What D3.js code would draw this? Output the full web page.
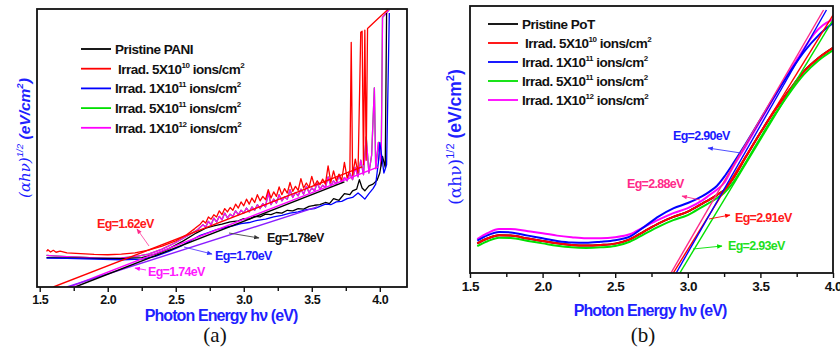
<!DOCTYPE html>
<html>
<head>
<meta charset="utf-8">
<script src="https://cdn.jsdelivr.net/npm/d3@7"></script>
<style>
body { margin: 0; background: #fff; }
</style>
</head>
<body>
<script>
// ---- panel (a): PANI, values in arbitrary units (0 = axis floor, 100 = frame top)
const majorTicks = [1.5, 2.0, 2.5, 3.0, 3.5, 4.0]
const minorTicksA = [1.75, 2.25, 2.75, 3.25, 3.75]
const minorTicksB = [1.75, 2.25, 2.75, 3.25, 3.75]

const legendA = ["Pristine PANI", " Irrad. 5X10|10", "Irrad. 1X10|11", "Irrad. 5X10|11", "Irrad. 1X10|12"]
const legendB = ["Pristine PoT", " Irrad. 5X10|10", "Irrad. 1X10|11", "Irrad. 5X10|11", "Irrad. 1X10|12"]

const blackA = [[1.55,10.6],[1.70,10.5],[1.90,10.3],[2.10,10.2],[2.25,10.6],[2.35,11.8],[2.45,13.8],[2.55,16.4],[2.65,19.4],[2.72,21.2],[2.78,22.0],[2.84,22.6],[2.90,23.4],[2.96,23.8],[3.00,24.6],[3.04,24.4],[3.08,25.4],[3.12,25.2],[3.16,26.2],[3.20,26.0],[3.24,26.8],[3.28,26.6],[3.32,27.6],[3.36,27.4],[3.40,28.2],[3.44,28.0],[3.48,29.0],[3.52,29.4],[3.56,29.6],[3.60,30.4],[3.63,30.0],[3.66,31.8],[3.70,31.2],[3.74,33.6],[3.78,33.2],[3.80,34.6],[3.83,35.2],[3.85,38.6],[3.87,35.6],[3.89,34.6],[3.92,36.4],[3.95,37.0],[3.98,38.4],[4.00,41.0],[4.02,47.0],[4.04,43.0],[4.05,98.6]]

const redA = [[1.55,12.8],[1.56,13.4],[1.58,12.6],[1.60,13.2],[1.62,12.5],[1.65,12.9],[1.70,12.3],[1.80,12.0],[1.90,11.7],[2.00,11.6],[2.10,11.8],[2.20,12.3],[2.30,13.3],[2.40,14.7],[2.50,16.6],[2.58,18.8],[2.64,21.0],[2.68,22.6],[2.70,23.8],[2.72,23.0],[2.74,25.2],[2.76,24.4],[2.78,26.0],[2.80,25.2],[2.82,27.4],[2.84,26.0],[2.86,28.2],[2.88,27.0],[2.90,28.6],[2.92,27.6],[2.94,29.8],[2.96,28.4],[2.98,30.6],[3.00,29.2],[3.02,31.6],[3.04,29.8],[3.06,32.0],[3.08,30.4],[3.10,33.2],[3.12,31.0],[3.14,32.6],[3.16,31.4],[3.18,35.0],[3.20,32.0],[3.22,34.2],[3.24,32.6],[3.26,36.0],[3.28,33.2],[3.30,35.4],[3.32,33.8],[3.34,37.6],[3.36,34.4],[3.38,36.2],[3.40,34.8],[3.42,39.0],[3.44,35.6],[3.46,37.4],[3.48,35.8],[3.50,39.8],[3.52,36.4],[3.54,38.2],[3.56,36.8],[3.58,38.8],[3.60,37.0],[3.62,43.6],[3.64,37.6],[3.66,41.8],[3.68,38.2],[3.70,40.6],[3.72,38.4],[3.74,44.8],[3.76,39.2],[3.78,42.0],[3.79,88.0],[3.80,40.2],[3.82,46.0],[3.84,41.0],[3.86,91.6],[3.87,92.0],[3.88,44.0],[3.89,92.4],[3.90,45.6],[3.91,93.0],[3.98,96.2],[4.06,99.8]]

const blueA = [[1.55,10.4],[1.70,10.3],[1.90,10.0],[2.10,9.8],[2.25,10.0],[2.35,11.0],[2.45,12.8],[2.55,15.0],[2.62,17.0],[2.68,18.6],[2.74,19.6],[2.80,20.6],[2.86,21.4],[2.92,22.0],[2.98,22.8],[3.04,23.2],[3.10,24.0],[3.16,24.4],[3.22,25.2],[3.28,25.8],[3.34,26.6],[3.40,27.0],[3.46,27.8],[3.52,28.2],[3.56,29.0],[3.60,29.8],[3.64,29.6],[3.68,30.6],[3.72,30.8],[3.76,31.8],[3.80,32.2],[3.84,33.8],[3.86,33.0],[3.89,31.6],[3.92,33.6],[3.95,35.4],[3.97,37.0],[3.99,45.0],[4.00,52.0],[4.02,45.0],[4.03,41.0],[4.05,44.0],[4.07,98.6]]

const magentaA = [[1.55,11.4],[1.60,11.2],[1.70,10.9],[1.80,10.7],[1.90,10.5],[2.00,10.4],[2.10,10.5],[2.20,10.9],[2.30,11.8],[2.40,13.6],[2.50,16.0],[2.60,18.8],[2.66,20.6],[2.70,22.4],[2.72,21.6],[2.74,23.6],[2.76,22.4],[2.78,24.8],[2.80,23.4],[2.82,25.4],[2.84,24.2],[2.86,26.6],[2.88,24.8],[2.90,26.2],[2.92,25.4],[2.94,27.4],[2.96,26.0],[2.98,27.6],[3.00,26.6],[3.02,28.4],[3.04,27.0],[3.06,28.8],[3.08,27.6],[3.10,29.6],[3.12,28.2],[3.14,30.0],[3.16,28.8],[3.18,34.0],[3.20,29.6],[3.22,31.6],[3.24,30.2],[3.26,33.2],[3.28,31.0],[3.30,32.4],[3.32,31.6],[3.34,35.0],[3.36,32.2],[3.38,34.0],[3.40,32.8],[3.42,35.2],[3.44,33.4],[3.46,36.2],[3.48,34.0],[3.50,35.6],[3.52,34.6],[3.54,37.4],[3.56,35.2],[3.58,36.6],[3.60,35.8],[3.62,39.6],[3.64,36.4],[3.66,38.2],[3.68,37.0],[3.70,40.2],[3.72,37.6],[3.74,39.4],[3.76,38.2],[3.78,41.0],[3.80,38.6],[3.82,43.0],[3.84,39.6],[3.86,45.6],[3.88,40.4],[3.90,54.0],[3.92,41.0],[3.94,47.4],[3.96,71.6],[3.97,42.6],[3.99,52.0],[4.01,43.6],[4.02,97.0],[4.07,99.8]]

// green sits under the magenta trace in the original
const greenA = magentaA

const fitRedA = [[1.60,0],[3.87,43.2]]
const fitMagentaA = [[1.72,0],[3.99,43.2]]
const fitBlackA = [[1.76,0],[3.74,37.8]]
const fitBlueA = [[1.70,0],[3.54,28.8]]
const egA = ["Eg=1.62eV", "Eg=1.78eV", "Eg=1.70eV", "Eg=1.74eV"]

// ---- panel (b): PoT
const redB = [[1.55,11.1],[1.62,12.9],[1.70,14.1],[1.78,14.0],[1.90,12.9],[2.00,12.0],[2.10,11.1],[2.20,10.5],[2.30,10.3],[2.40,10.5],[2.50,11.0],[2.60,12.6],[2.70,15.6],[2.80,18.6],[2.90,21.0],[3.00,23.0],[3.10,26.0],[3.20,29.2],[3.25,31.0],[3.30,34.5],[3.40,43.5],[3.50,52.5],[3.60,61.0],[3.70,68.5],[3.80,75.5],[3.90,80.5],[4.00,84.3]]
const blackB = redB
const greenB = [[1.55,10.1],[1.62,11.9],[1.70,13.2],[1.78,13.1],[1.90,12.0],[2.00,11.1],[2.10,10.2],[2.20,9.6],[2.30,9.4],[2.40,9.6],[2.50,10.1],[2.60,11.7],[2.70,14.6],[2.80,17.4],[2.90,19.8],[3.00,21.7],[3.10,24.8],[3.20,28.0],[3.25,30.0],[3.30,33.0],[3.40,41.5],[3.50,50.6],[3.60,59.4],[3.70,67.4],[3.80,74.4],[3.90,79.6],[4.00,83.4]]
const blueB = [[1.55,12.1],[1.62,14.1],[1.70,15.4],[1.78,15.2],[1.90,14.0],[2.00,13.0],[2.10,12.0],[2.20,11.4],[2.30,11.3],[2.40,11.7],[2.50,12.3],[2.60,13.6],[2.70,17.3],[2.80,21.2],[2.90,24.2],[3.00,26.2],[3.10,28.8],[3.15,30.5],[3.20,32.6],[3.25,36.0],[3.30,40.0],[3.40,48.5],[3.50,57.5],[3.60,66.5],[3.70,75.0],[3.80,82.8],[3.90,89.0],[4.00,93.6]]
const magentaB = [[1.55,12.7],[1.62,14.9],[1.70,16.5],[1.78,16.5],[1.90,15.6],[2.00,14.9],[2.10,14.0],[2.20,13.4],[2.30,13.0],[2.40,13.0],[2.50,13.4],[2.60,14.5],[2.70,17.3],[2.80,20.0],[2.90,22.4],[3.00,24.3],[3.10,27.2],[3.15,29.2],[3.20,31.2],[3.25,33.7],[3.30,38.6],[3.40,47.6],[3.50,57.0],[3.60,66.3],[3.70,75.5],[3.80,84.0],[3.87,89.6],[3.93,92.8],[4.00,95.0]]

const fitMagentaB = [[2.884,0],[3.935,98.5]]
const fitRedB = [[2.90,0],[4.00,96.6]]
const fitBlueB = [[2.92,0],[3.955,98.5]]
const fitGreenB = [[2.945,0],[4.00,94.8]]
const egB = ["Eg=2.90eV", "Eg=2.88eV", "Eg=2.91eV", "Eg=2.93eV"]

const col = {
    black: "#000000", red: "#ff0000", blue: "#0000ff", green: "#00e000",
    magenta: "#ff00ff", violet: "#8a1cff", pink: "#ff2a8a", label: "#1f1fff"
}
const legendColors = [col.black, col.red, col.blue, col.green, col.magenta]

let svg = d3.select("body").append("svg")
    .attr("width", 840)
    .attr("height", 348)
    .style("font-family", "Liberation Sans, Arial, sans-serif")

let defs = svg.append("defs")
function marker(id, color) {
    defs.append("marker")
        .attr("id", id)
        .attr("viewBox", "0 0 10 10")
        .attr("refX", 9).attr("refY", 5)
        .attr("markerWidth", 7).attr("markerHeight", 6)
        .attr("orient", "auto")
        .append("path")
        .attr("d", "M0,1 L10,5 L0,9 z")
        .attr("fill", color)
}
marker("arRed", col.pink)
marker("arBlack", "#333")
marker("arBlue", "#3030ff")
marker("arMag", col.magenta)
marker("arPink", col.pink)
marker("arRed2", col.red)
marker("arGreen", col.green)

function panel(p) {
    let g = svg.append("g")
    let x = d3.scaleLinear().domain(p.xDomain).range([p.left, p.right])
    let y = d3.scaleLinear().domain([0, 100]).range([p.bottom, p.top])

    g.append("clipPath").attr("id", p.id + "clip")
        .append("rect")
        .attr("x", p.left).attr("y", p.top)
        .attr("width", p.right - p.left).attr("height", p.bottom - p.top)

    let line = d3.line().x(d => x(d[0])).y(d => y(d[1])).curve(p.curve)
    let straight = d3.line().x(d => x(d[0])).y(d => y(d[1]))

    let plot = g.append("g").attr("clip-path", `url(#${p.id}clip)`)
    p.series.forEach(s => {
        plot.append("path")
            .datum(s[0])
            .attr("d", line)
            .attr("fill", "none")
            .attr("stroke", s[1])
            .attr("stroke-width", p.lineWidth)
            .attr("stroke-linejoin", "round")
    })
    p.fits.forEach(f => {
        plot.append("path")
            .datum(f[0])
            .attr("d", straight)
            .attr("fill", "none")
            .attr("stroke", f[1])
            .attr("stroke-width", 1.4)
    })

    g.append("rect")
        .attr("x", p.left).attr("y", p.top)
        .attr("width", p.right - p.left).attr("height", p.bottom - p.top)
        .attr("fill", "none")
        .attr("stroke", "#111")
        .attr("stroke-width", 1.8)

    let ax = g.append("g")
        .attr("transform", `translate(0,${p.bottom})`)
        .call(d3.axisBottom(x).tickValues(majorTicks).tickSize(5).tickPadding(3).tickFormat(d3.format(".1f")))
    ax.select(".domain").remove()
    ax.selectAll("line").attr("stroke", "#111").attr("stroke-width", 1.4)
    ax.selectAll("text")
        .attr("font-size", p.tickFont)
        .attr("font-weight", "bold")
        .attr("letter-spacing", -0.5)
        .attr("fill", "#111")
        .attr("font-family", "Liberation Sans, Arial, sans-serif")

    let mx = g.append("g")
        .attr("transform", `translate(0,${p.bottom})`)
        .call(d3.axisBottom(x).tickValues(p.minor).tickSize(4).tickFormat(""))
    mx.select(".domain").remove()
    mx.selectAll("line").attr("stroke", "#111").attr("stroke-width", 1.4)

    // legend
    p.legend.forEach((t, i) => {
        let ly = p.legTop + i * p.legStep
        g.append("line")
            .attr("x1", p.legX).attr("x2", p.legX + 30)
            .attr("y1", ly).attr("y2", ly)
            .attr("stroke", legendColors[i])
            .attr("stroke-width", 1.8)
        let parts = t.split("|")
        let txt = g.append("text")
            .attr("x", p.legX + 34 + (t[0] == " " ? 3 : 0))
            .attr("y", ly + 5)
            .attr("font-size", 13.5)
            .attr("font-weight", "bold")
            .attr("letter-spacing", -0.5)
            .attr("fill", "#111")
        txt.append("tspan").text(parts[0].trim())
        if (parts.length > 1) {
            txt.append("tspan").text(parts[1]).attr("font-size", 8).attr("dy", -6)
            txt.append("tspan").text(" ions/cm").attr("dy", 6)
            txt.append("tspan").text("2").attr("font-size", 8).attr("dy", -6)
        }
    })

    // axis titles
    g.append("text")
        .attr("x", p.xLabel[0]).attr("y", p.xLabel[1])
        .attr("text-anchor", "middle")
        .attr("font-size", 16)
        .attr("font-weight", "bold")
        .attr("letter-spacing", -0.9)
        .attr("fill", col.label)
        .text("Photon Energy h\u03bd (eV)")

    let fs = p.yFont
    let yl = g.append("text")
        .attr("transform", `translate(${p.yLabel[0]},${p.yLabel[1]}) rotate(-90)`)
        .attr("text-anchor", "middle")
        .attr("fill", col.label)
        .attr("font-style", p.italic ? "italic" : "normal")
    yl.append("tspan").text("(\u03b1h\u03bd)").attr("font-size", fs).attr("font-family", "DejaVu Serif, serif")
    yl.append("tspan").text("1/2").attr("font-size", fs * 0.65).attr("dy", -7)
    yl.append("tspan").text(" (eV/cm").attr("font-size", fs + 0.5).attr("font-weight", "bold").attr("dy", 7)
    yl.append("tspan").text("2").attr("font-size", fs * 0.65).attr("font-weight", "bold").attr("dy", -7)
    yl.append("tspan").text(")").attr("font-size", fs + 0.5).attr("font-weight", "bold").attr("dy", 7)

    g.append("text")
        .attr("x", p.caption[0]).attr("y", p.caption[1])
        .attr("text-anchor", "middle")
        .attr("font-family", "Liberation Serif, Times New Roman, serif")
        .attr("font-size", 21)
        .attr("fill", "#111")
        .text(p.id == "a" ? "(a)" : "(b)")

    return g
}

function note(g, label, color, arrow, tx, ty, from, to) {
    g.append("line")
        .attr("x1", from[0]).attr("y1", from[1])
        .attr("x2", to[0]).attr("y2", to[1])
        .attr("stroke", arrow[0])
        .attr("stroke-width", 0.9)
        .attr("marker-end", `url(#${arrow[1]})`)
    g.append("text")
        .attr("x", tx).attr("y", ty)
        .attr("font-size", 12.5)
        .attr("font-weight", "bold")
        .attr("letter-spacing", -0.7)
        .attr("fill", color)
        .text(label)
}

let ga = panel({
    id: "a", xDomain: [1.48, 4.2], left: 37, right: 407, top: 9, bottom: 287,
    curve: d3.curveLinear, lineWidth: 1.3, minor: minorTicksA, tickFont: 12.5,
    series: [[greenA, col.green], [magentaA, col.magenta], [redA, col.red], [blackA, col.black], [blueA, col.blue]],
    fits: [[fitRedA, col.red], [fitMagentaA, col.magenta], [fitBlueA, col.violet], [fitBlackA, col.black]],
    legend: legendA, legX: 81, legTop: 49, legStep: 19.7,
    xLabel: [221, 321], yLabel: [30, 138], yFont: 15, italic: true, caption: [215, 342]
})
note(ga, egA[0], "#ff1a1a", ["#ff4da6", "arRed"], 97, 228, [149, 246], [137, 229])
note(ga, egA[1], "#111", ["#444", "arBlack"], 267, 242, [229, 233], [259, 238])
note(ga, egA[2], "#1a1aff", ["#5a3cff", "arBlue"], 215, 260, [184, 247], [212, 254])
note(ga, egA[3], "#ff1aff", ["#ff1aff", "arMag"], 148, 276, [146, 270], [135, 268])

let gb = panel({
    id: "b", xDomain: [1.5, 4.0], left: 470, right: 833, top: 6, bottom: 273,
    curve: d3.curveMonotoneX, lineWidth: 2, minor: minorTicksB, tickFont: 13.5,
    series: [[blackB, col.black], [greenB, col.green], [redB, col.red], [magentaB, col.magenta], [blueB, col.blue]],
    fits: [[fitGreenB, col.green], [fitRedB, col.red], [fitBlueB, col.blue], [fitMagentaB, col.pink]],
    legend: legendB, legX: 488, legTop: 24, legStep: 19,
    xLabel: [650, 316], yLabel: [461, 137], yFont: 17, italic: false, caption: [643, 342]
})
note(gb, egB[0], "#1a1aff", ["#3a3aff", "arBlue"], 673, 140, [741, 153], [708, 148])
note(gb, egB[1], col.pink, [col.pink, "arPink"], 627, 188, [700, 200], [682, 196])
note(gb, egB[2], "#ff1a1a", [col.red, "arRed2"], 735, 222, [709, 219], [730, 215])
note(gb, egB[3], "#1ee01e", [col.green, "arGreen"], 728, 250, [693, 249], [722, 246])
</script>
</body>
</html>
